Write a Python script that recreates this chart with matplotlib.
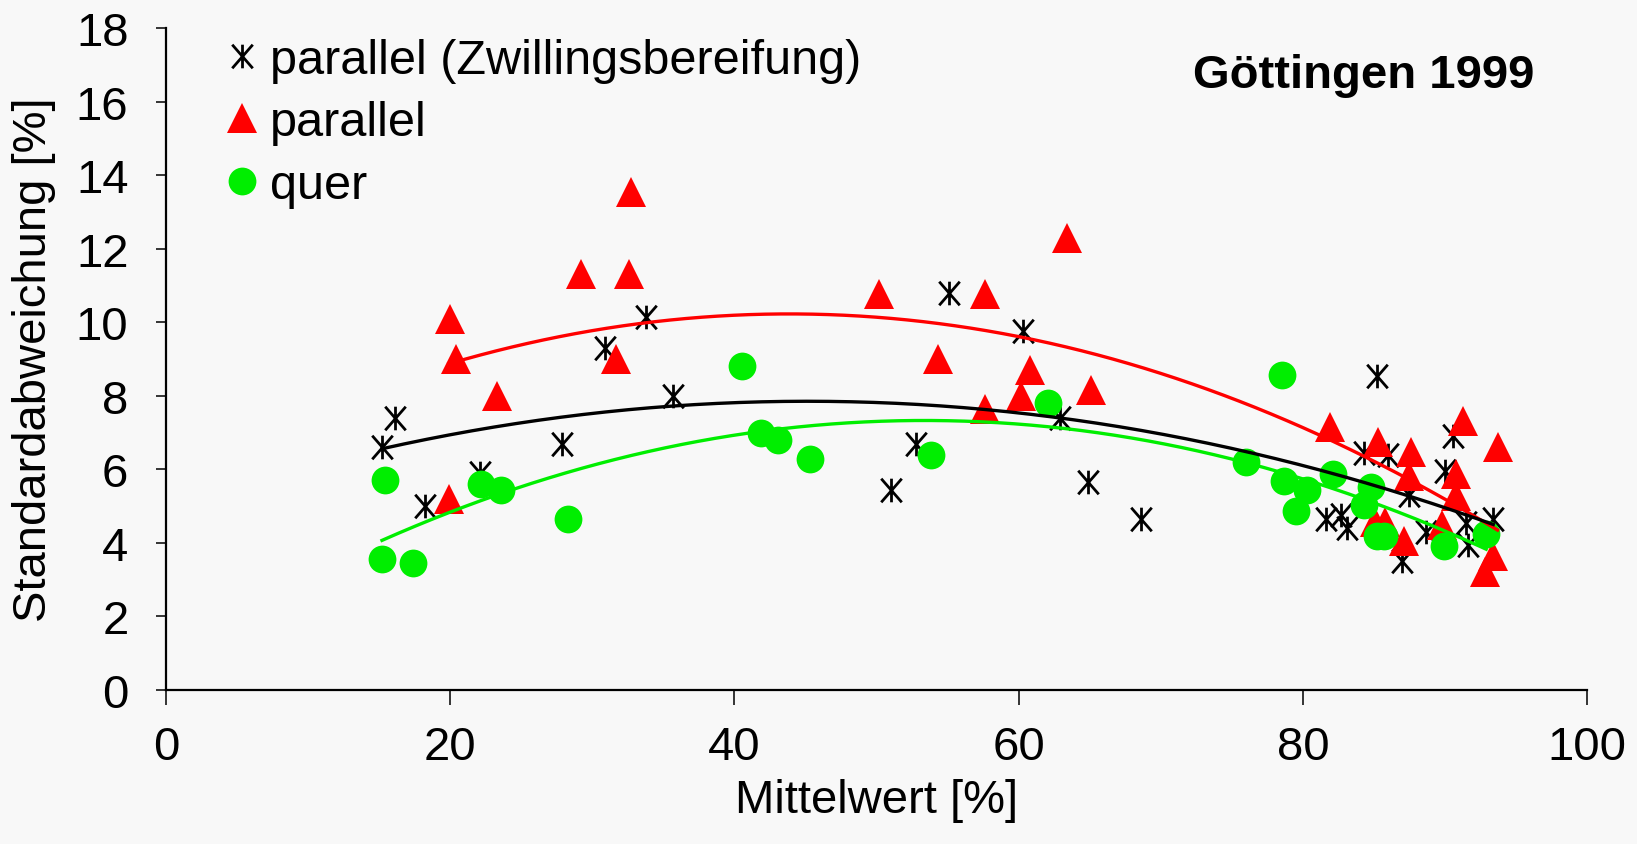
import numpy as np
import matplotlib.pyplot as plt
from matplotlib.path import Path

# parallel (Zwillingsbereifung) - black asterisks
zw_x = [15.2, 16.1, 18.2, 22.1, 27.9, 30.9, 33.8, 35.7, 51.0, 52.8, 55.1, 60.3,
        62.9, 64.9, 68.6, 81.6, 82.7, 83.1, 84.3, 85.2, 86.0, 87.0, 87.5, 88.7,
        90.0, 90.6, 91.5, 91.6, 93.4]
zw_y = [6.6, 7.4, 5.0, 5.9, 6.7, 9.3, 10.15, 8.0, 5.45, 6.7, 10.8, 9.75,
        7.4, 5.65, 4.65, 4.65, 4.75, 4.4, 6.45, 8.55, 6.4, 3.5, 5.3, 4.3,
        5.95, 6.9, 4.55, 3.95, 4.65]

# parallel - red triangles
par_x = [19.9, 20.0, 20.4, 23.3, 29.2, 31.7, 32.6, 32.7, 50.2, 54.3, 57.6, 57.6,
         60.2, 60.8, 63.4, 65.1, 81.9, 85.1, 85.3, 85.8, 87.1, 87.5, 87.6, 89.8,
         90.8, 90.8, 91.3, 92.8, 93.4, 93.7]
par_y = [5.2, 10.1, 9.0, 8.0, 11.3, 9.0, 11.3, 13.55, 10.76, 9.0, 10.76, 7.64,
         8.0, 8.7, 12.3, 8.15, 7.15, 4.57, 6.75, 4.57, 4.05, 5.82, 6.47, 4.5,
         5.88, 5.28, 7.32, 3.2, 3.65, 6.6]

# quer - green circles
quer_x = [15.2, 15.4, 17.4, 22.2, 23.6, 28.3, 40.5, 41.85, 43.1, 45.3, 53.8, 62.1,
          76.0, 78.5, 78.7, 79.5, 80.3, 82.1, 84.3, 84.8, 85.2, 85.7, 89.9, 92.9]
quer_y = [3.55, 5.7, 3.46, 5.6, 5.45, 4.66, 8.8, 7.0, 6.8, 6.27, 6.4, 7.8,
          6.2, 8.57, 5.68, 4.88, 5.45, 5.88, 5.02, 5.53, 4.2, 4.2, 3.92, 4.25]

labels = ["parallel (Zwillingsbereifung)", "parallel", "quer"]
title = "Göttingen 1999"

BG = "#f8f8f8"
RED = "#ff0000"
GREEN = "#00ee00"

plt.rcParams["font.family"] = ["Liberation Sans", "DejaVu Sans"]

# excel-style star marker: vertical bar plus an X
star = Path(
    [(0, -1), (0, 1), (-0.87, -1), (0.87, 1), (-0.87, 1), (0.87, -1)],
    [Path.MOVETO, Path.LINETO, Path.MOVETO, Path.LINETO, Path.MOVETO, Path.LINETO],
)

fig = plt.figure(figsize=(16.37, 8.45), dpi=100, facecolor=BG)
ax = fig.add_axes([0.1014, 0.1822, 0.8681, 0.7835], facecolor=BG)

ax.plot(zw_x, zw_y, ls="none", marker=star, ms=17, mew=2.0, mec="black",
        label=labels[0], zorder=3)
ax.plot(par_x, par_y, ls="none", marker="^", ms=21, mew=0, mfc=RED,
        label=labels[1], zorder=4)
ax.plot(quer_x, quer_y, ls="none", marker="o", ms=20, mew=0, mfc=GREEN,
        label=labels[2], zorder=5)

# quadratic trend lines
for xs, ys, col in [(par_x, par_y, RED), (zw_x, zw_y, "black"), (quer_x, quer_y, GREEN)]:
    c = np.polyfit(xs, ys, 2)
    xx = np.linspace(min(xs), max(xs), 200)
    ax.plot(xx, np.polyval(c, xx), color=col, lw=2.4, zorder=6)

ax.set_xlim(0, 100)
ax.set_ylim(0, 18)
ax.set_xticks(np.arange(0, 101, 20))
ax.set_yticks(np.arange(0, 19, 2))
for s in ["top", "right"]:
    ax.spines[s].set_visible(False)
for s in ["left", "bottom"]:
    ax.spines[s].set_linewidth(1.6)
ax.tick_params(axis="x", direction="out", length=11, width=1.1, labelsize=34, pad=14)
ax.tick_params(axis="y", direction="out", length=7, width=1.1, labelsize=34, pad=20)

ax.set_xlabel("Mittelwert [%]", fontsize=34, labelpad=7)
ax.set_ylabel("Standardabweichung [%]", fontsize=34, labelpad=14)

ax.text(0.963, 0.929, title, transform=ax.transAxes, ha="right", va="center",
        fontsize=34, fontweight="bold")

ax.legend(loc="upper left", bbox_to_anchor=(0.040, 0.985), frameon=False,
          fontsize=35, handlelength=0.8, handletextpad=0.17, labelspacing=0.36,
          borderpad=0, borderaxespad=0)

fig.savefig("out.png", dpi=100, facecolor=BG)
